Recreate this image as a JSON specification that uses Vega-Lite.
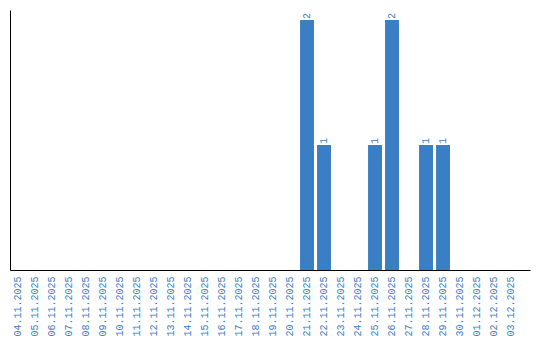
{
  "$schema": "https://vega.github.io/schema/vega-lite/v6.json",
  "width": 520,
  "height": 260,
  "autosize": "none",
  "padding": {"left": 10, "top": 10, "right": 10, "bottom": 70},
  "background": "white",
  "config": {"view": {"stroke": null}},
  "data": {"values": [
    {"date": "04.11.2025", "count": 0},
    {"date": "05.11.2025", "count": 0},
    {"date": "06.11.2025", "count": 0},
    {"date": "07.11.2025", "count": 0},
    {"date": "08.11.2025", "count": 0},
    {"date": "09.11.2025", "count": 0},
    {"date": "10.11.2025", "count": 0},
    {"date": "11.11.2025", "count": 0},
    {"date": "12.11.2025", "count": 0},
    {"date": "13.11.2025", "count": 0},
    {"date": "14.11.2025", "count": 0},
    {"date": "15.11.2025", "count": 0},
    {"date": "16.11.2025", "count": 0},
    {"date": "17.11.2025", "count": 0},
    {"date": "18.11.2025", "count": 0},
    {"date": "19.11.2025", "count": 0},
    {"date": "20.11.2025", "count": 0},
    {"date": "21.11.2025", "count": 2},
    {"date": "22.11.2025", "count": 1},
    {"date": "23.11.2025", "count": 0},
    {"date": "24.11.2025", "count": 0},
    {"date": "25.11.2025", "count": 1},
    {"date": "26.11.2025", "count": 2},
    {"date": "27.11.2025", "count": 0},
    {"date": "28.11.2025", "count": 1},
    {"date": "29.11.2025", "count": 1},
    {"date": "30.11.2025", "count": 0},
    {"date": "01.12.2025", "count": 0},
    {"date": "02.12.2025", "count": 0},
    {"date": "03.12.2025", "count": 0}
  ]},
  "encoding": {
    "x": {
      "field": "date", "type": "ordinal", "sort": null,
      "scale": {"paddingInner": 0.18, "paddingOuter": 0.384, "align": 0.08},
      "axis": {
        "title": null, "ticks": false, "labelAngle": -90, "labelAlign": "right",
        "labelBaseline": "middle", "labelPadding": 6, "labelColor": "#3a7dc3",
        "labelFont": "Liberation Mono", "labelFontSize": 10, "domainColor": "#000000",
        "domainWidth": 1, "grid": false
      }
    },
    "y": {
      "field": "count", "type": "quantitative",
      "scale": {"domain": [0, 2.08], "nice": false},
      "axis": {"title": null, "labels": false, "ticks": false, "grid": false, "domainColor": "#000000", "domainWidth": 1}
    }
  },
  "layer": [
    {"mark": {"type": "bar", "color": "#3a7ec3"}},
    {
      "transform": [{"filter": "datum.count > 0"}],
      "mark": {"type": "text", "angle": -90, "align": "left", "baseline": "middle", "dx": 1, "color": "#3a7dc3", "font": "Liberation Mono", "fontSize": 10},
      "encoding": {"text": {"field": "count", "type": "quantitative"}}
    }
  ]
}
